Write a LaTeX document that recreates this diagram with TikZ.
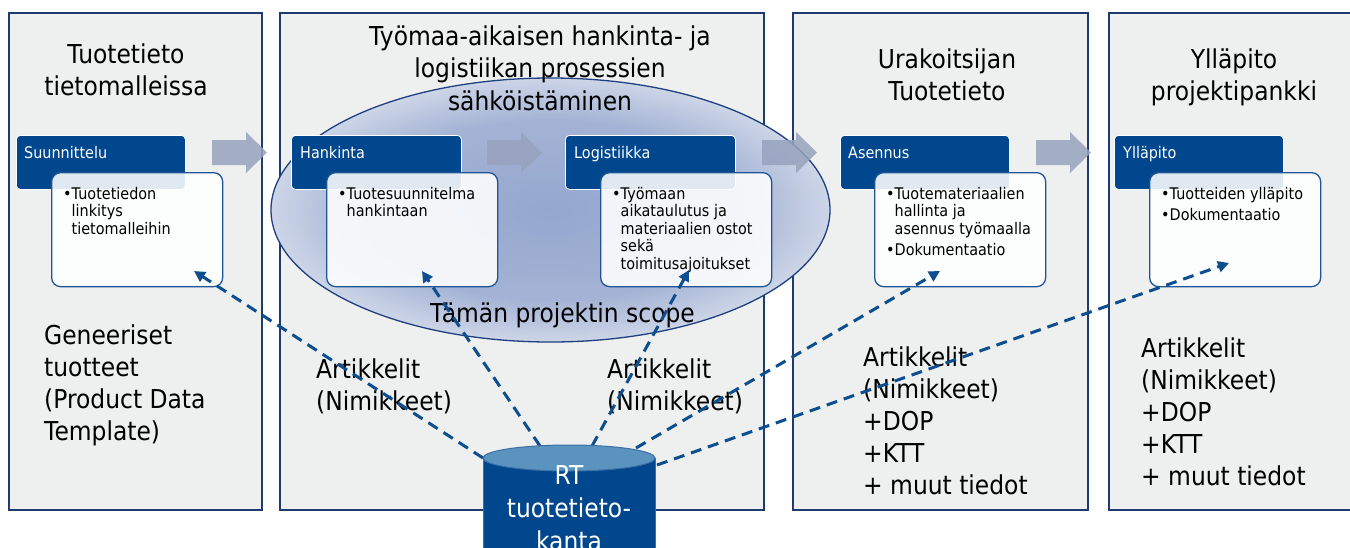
\documentclass[tikz,border=0pt]{standalone}
\usepackage{fontspec}
\setmainfont{DejaVu Sans}[FakeStretch=0.9]
\usetikzlibrary{shapes.geometric,arrows.meta}
\definecolor{panelfill}{HTML}{EEEFEF}
\definecolor{panelline}{HTML}{1F3A6E}
\definecolor{hdrfill}{HTML}{00478D}
\definecolor{boxline}{HTML}{1F5597}
\definecolor{chevfill}{HTML}{97A3BE}
\definecolor{connc}{HTML}{0D4E8F}
\definecolor{elin}{HTML}{95A7CE}
\definecolor{elmid}{HTML}{A4B3D5}
\definecolor{elout}{HTML}{CDD5E7}
\definecolor{ellline}{HTML}{1F3F7F}
\definecolor{cyltop}{HTML}{5B93BF}
\definecolor{cylline}{HTML}{3A6FA8}
\pgfdeclareradialshading{scopeshade}{\pgfpoint{0bp}{0bp}}{color(0bp)=(elin); color(17bp)=(elmid); color(25bp)=(elout); color(50bp)=(elout)}
\newcommand{\mybul}{\textbullet}
\newcommand{\myind}{\phantom{\textbullet}}
\tikzset{
 panel/.style={draw=panelline, line width=1.2pt, fill=panelfill},
 hdr/.style={draw=white, line width=0.8pt, fill=hdrfill, rounded corners=4pt, inner sep=0pt, anchor=north west, minimum height=54pt},
 hdrtext/.style={text=white, font=\fontsize{16}{19}\selectfont, anchor=base west, inner sep=0pt},
 cbox/.style={draw=boxline, line width=1.3pt, fill=white, fill opacity=0.88, rounded corners=9pt, inner sep=0pt, anchor=north west, minimum width=171pt, minimum height=114pt},
 ctext/.style={font=\fontsize{16}{17.5}\selectfont, align=left, anchor=north west, inner sep=0pt},
 title/.style={font=\fontsize{26}{32.5}\selectfont, align=center, anchor=north, inner sep=0pt},
 body/.style={font=\fontsize{26}{32}\selectfont, align=left, anchor=north west, inner sep=0pt},
 conn/.style={draw=connc, line width=3pt, dash pattern=on 11pt off 7pt, -{Triangle[length=11pt,width=11pt]}},
 cyltext/.style={text=white, font=\fontsize{26}{33}\selectfont, align=center, anchor=north, inner sep=0pt},
 flowarrow/.pic={\fill[chevfill, fill opacity=0.85] (0,-12.5) -- (34,-12.5) -- (34,-20.5) -- (55,0) -- (34,20.5) -- (34,12.5) -- (0,12.5) -- cycle;}
}
\begin{document}
\begin{tikzpicture}[x=1pt,y=-1pt]
\clip (0,0) rectangle (1350,547);
\fill[white] (0,0) rectangle (1350,547);
% panels
\draw[panel] (9,13) rectangle (262,510);
\draw[panel] (280,13) rectangle (764,510);
\draw[panel] (793,13) rectangle (1088,510);
\draw[panel] (1109,13) rectangle (1362,510);
% scope ellipse
\node[ellipse, draw=ellline, line width=1.3pt, shading=scopeshade, minimum width=559pt, minimum height=264pt, inner sep=0pt] (scope) at (550.5,210) {};
% flow arrows
\pic at (212,152.5) {flowarrow};
\pic at (487,152.5) {flowarrow};
\pic at (762,152.5) {flowarrow};
\pic at (1036,152.5) {flowarrow};
% headers
\node[hdr, minimum width=169pt] (h1) at (16,135) {};
\node[hdr, minimum width=170pt] (h2) at (291,135) {};
\node[hdr, minimum width=170pt] (h3) at (565,135) {};
\node[hdr, minimum width=169pt] (h4) at (840,135) {};
\node[hdr, minimum width=169pt] (h5) at (1114,135) {};
\node[hdrtext] (h1t) at (24,158) {Suunnittelu};
\node[hdrtext] (h2t) at (300,158) {Hankinta};
\node[hdrtext] (h3t) at (574,158) {Logistiikka};
\node[hdrtext] (h4t) at (848,158) {Asennus};
\node[hdrtext] (h5t) at (1123,158) {Ylläpito};
% content boxes
\node[cbox] (b1) at (51,172) {};
\node[cbox] (b2) at (326,172) {};
\node[cbox] (b3) at (600,172) {};
\node[cbox] (b4) at (874,172) {};
\node[cbox] (b5) at (1149,172) {};
\node[ctext] (b1t) at (63,186.75) {\strut\mybul Tuotetiedon\\\myind linkitys\\\myind tietomalleihin};
\node[ctext] (b2t) at (338,186.75) {\strut\mybul Tuotesuunnitelma\\\myind hankintaan};
\node[ctext] (b3t) at (612,186.75) {\strut\mybul Työmaan\\\myind aikataulutus ja\\\myind materiaalien ostot\\\myind sekä\\\myind toimitusajoitukset};
\node[ctext] (b4t) at (886,186.75) {\strut\mybul Tuotemateriaalien\\\myind hallinta ja\\\myind asennus työmaalla\\[3.5pt]\mybul Dokumentaatio};
\node[ctext] (b5t) at (1161,186.75) {\strut\mybul Tuotteiden ylläpito\\[3.5pt]\mybul Dokumentaatio};
% titles
\node[title] (t1) at (126,40.25) {\strut Tuotetieto\\tietomalleissa};
\node[title] (t2) at (540,22.25) {\strut Työmaa-aikaisen hankinta- ja\\logistiikan prosessien\\sähköistäminen};
\node[title] (t3) at (947,45.25) {\strut Urakoitsijan\\Tuotetieto};
\node[title] (t4) at (1234,45.25) {\strut Ylläpito\\projektipankki};
% body texts
\node[body] (g1) at (44,321.6) {\strut Geneeriset\\tuotteet\\(Product Data\\Template)};
\node[body] (g2) at (316,355.6) {\strut Artikkelit\\(Nimikkeet)};
\node[body] (g3) at (607,355.6) {\strut Artikkelit\\(Nimikkeet)};
\node[body] (g4) at (863,343.6) {\strut Artikkelit\\(Nimikkeet)\\+DOP\\+KTT\\+ muut tiedot};
\node[body] (g5) at (1141,334.6) {\strut Artikkelit\\(Nimikkeet)\\+DOP\\+KTT\\+ muut tiedot};
\node[font=\fontsize{26}{32}\selectfont, anchor=base, inner sep=0pt] (scopelabel) at (562.5,322) {Tämän projektin scope};
% connectors
\coordinate (c1) at (483,458);
\coordinate (c2) at (540,446);
\coordinate (c3) at (592,446);
\coordinate (c4) at (636,448);
\coordinate (c5) at (657,465);
\coordinate (e1) at (194,271);
\coordinate (e2) at (422,271);
\coordinate (e3) at (689,270);
\coordinate (e4) at (940,271);
\coordinate (e5) at (1229,263);
\draw[conn] (c1) -- (e1);
\draw[conn] (c2) -- (e2);
\draw[conn] (c3) -- (e3);
\draw[conn] (c4) -- (e4);
\draw[conn] (c5) -- (e5);
% database cylinder
\fill[hdrfill] (483,458) rectangle (655,560);
\draw[cylline, line width=1pt] (483,458) -- (483,560) (655,458) -- (655,560);
\draw[cylline, fill=cyltop, line width=1pt] (569,458) ellipse [x radius=86, y radius=13];
\node[cyltext] (db) at (569,460.9) {\strut RT\\tuotetieto-\\kanta};
\end{tikzpicture}
\end{document}
